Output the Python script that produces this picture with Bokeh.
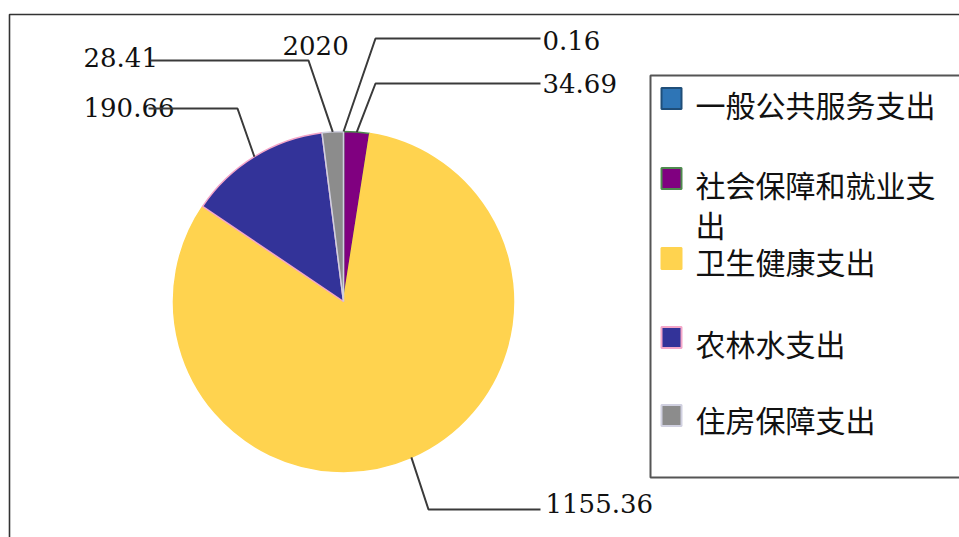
import math
from bokeh.plotting import figure
from bokeh.models import Range1d, ColumnDataSource
from bokeh.core.properties import value
from bokeh.embed import file_html
from bokeh.resources import INLINE

# ---- data ----
series_name = "2020"
categories = ["一般公共服务支出", "社会保障和就业支出", "卫生健康支出", "农林水支出", "住房保障支出"]
values = [0.16, 34.69, 1155.36, 190.66, 28.41]

# ---- styles ----
fill_colors = ["#2E75B6", "#800080", "#FFD34F", "#333399", "#8C8C8C"]
edge_colors = ["#1F4E79", "#4E8A4E", "#FFD34F", "#F4A6C8", "#D0D0E0"]

W, H = 959, 537
def Y(yp):
    return 537 - yp

p = figure(width=W, height=H, output_backend="svg", toolbar_location=None,
           x_range=Range1d(0, W), y_range=Range1d(0, H),
           min_border=0, x_axis_location=None, y_axis_location=None)
p.grid.visible = False
p.outline_line_color = None
p.background_fill_color = "white"
p.border_fill_color = "white"

# outer chart frame (clipped at right/bottom)
p.line([9, 9, 1100], [Y(700), Y(14), Y(14)], line_color="#333333", line_width=1.6)

# ---- pie ----
cx, cy, R = 343, Y(301), 170
total = sum(values)
starts, ends, mids = [], [], []
acc = 0.0
for v in values:
    a0 = math.pi / 2 - 2 * math.pi * acc / total
    acc += v
    a1 = math.pi / 2 - 2 * math.pi * acc / total
    starts.append(a1)
    ends.append(a0)
    mids.append((a0 + a1) / 2)

src = ColumnDataSource(dict(start=starts, end=ends, fill=fill_colors, edge=edge_colors))
p.wedge(x=cx, y=cy, radius=R, start_angle="start", end_angle="end",
        fill_color="fill", line_color="edge", line_width=1.5, source=src)

# ---- leader lines & labels ----
# layout per slice: (label line y, elbow x, end x, text x, text y)
label_layout = [
    (38, 375, 540, 542, 40),
    (83, 375, 540, 542, 83),
    (509, 428, 540, 545, 503),
    (108, 237, 148, 83, 107),
    (60, 308, 150, 83, 57),
]
lab_font = value("DejaVu Serif")
for v, m, (ly, ex, endx, tx, ty) in zip(values, mids, label_layout):
    p.text(x=[tx], y=[Y(ty)], text=[f"{v:.2f}"], text_font=lab_font,
           text_font_size="26px", text_color="#111111",
           text_baseline="middle", text_align="left")
for v, m, (ly, ex, endx, tx, ty) in zip(values, mids, label_layout):
    ax = cx + R * math.cos(m)
    ay = cy + R * math.sin(m)
    p.line([ax, ex, endx], [ay, Y(ly), Y(ly)], line_color="#3A3A3A", line_width=2)

# series name label
p.text(x=[282], y=[Y(45)], text=[series_name], text_font=lab_font,
       text_font_size="26px", text_color="#111111",
       text_baseline="middle", text_align="left")

# ---- legend ----
p.quad(left=[650], right=[1100], top=[Y(75)], bottom=[Y(477)],
       fill_color="white", line_color="#555555", line_width=2)
sw_y = [98, 178, 258, 337, 415]
txt_y = [[103], [183, 223], [260], [342], [418]]
wrap = 8
for cat, fc, ec, sy, tys in zip(categories, fill_colors, edge_colors, sw_y, txt_y):
    p.rect(x=[671], y=[Y(sy)], width=20, height=21, fill_color=fc,
           line_color=ec, line_width=2)
    lines = [cat[i:i + wrap] for i in range(0, len(cat), wrap)]
    for ln, ty in zip(lines, tys):
        p.text(x=[695], y=[Y(ty)], text=[ln], text_font=value("Noto Sans CJK SC"),
               text_font_size="30px", text_color="#111111",
               text_baseline="middle", text_align="left")

open("out.html", "w").write(file_html(p, INLINE))
